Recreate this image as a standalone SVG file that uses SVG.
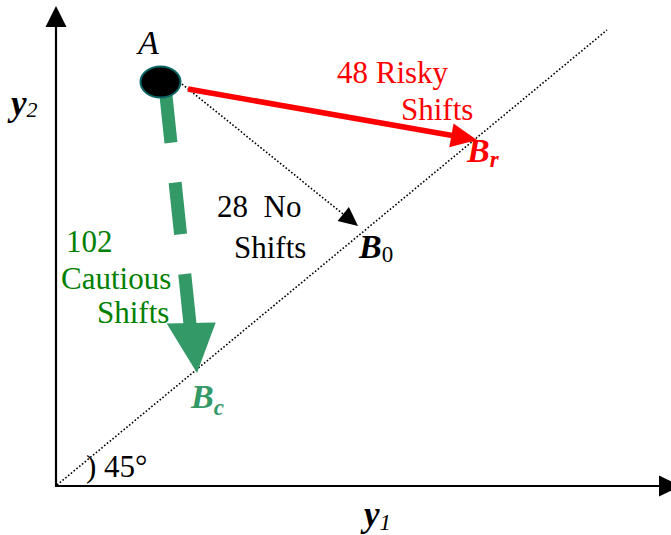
<svg xmlns="http://www.w3.org/2000/svg" width="671" height="535" viewBox="0 0 671 535">
<style>
text{font-family:"Liberation Serif","Times New Roman",serif;}
.lbl{font-size:31px;}
.bi{font-weight:bold;font-style:italic;}
.it{font-style:italic;}
.red{fill:#ff0000;}
.grn{fill:#008000;}
.sea{fill:#339966;}
.dot{stroke:#000;stroke-width:1.6;stroke-dasharray:1.6 2;fill:none;}
</style>
<rect width="671" height="535" fill="#fff"/>
<g id="axes">
  <line x1="56" y1="486" x2="56" y2="24" stroke="#000" stroke-width="2.2"/>
  <polygon points="56,6 45.5,27 66.5,27" fill="#000"/>
  <line x1="55" y1="486" x2="662" y2="486" stroke="#000" stroke-width="2.2"/>
  <polygon points="681,486 659,475.5 659,496.5" fill="#000"/>
  <line class="dot" x1="57" y1="485" x2="607" y2="30"/>
  <text class="lbl" x="86" y="477">) 45°</text>
  <text x="11" y="115" class="bi" font-size="35">y<tspan class="it" font-weight="normal" font-size="22" dy="2">2</tspan></text>
  <text x="364" y="526" class="bi" font-size="35">y<tspan class="it" font-weight="normal" font-size="23" dy="4">1</tspan></text>
</g>
<g id="connectors">
  <line x1="182" y1="84" x2="343" y2="214" class="dot"/>
  <polygon points="358,226 337.6,221 348.9,207" fill="#000"/>
  <line x1="188" y1="89" x2="455" y2="136" stroke="#ff0000" stroke-width="5.5"/>
  <polygon points="477,140 453.5,123.5 449.3,147.3" fill="#ff0000"/>
  <line x1="165.5" y1="91" x2="190" y2="324" stroke="#339966" stroke-width="13" stroke-dasharray="52 40"/>
  <polygon points="197,373 166.7,323.5 215.7,322.5" fill="#339966"/>
</g>
<g id="node-A">
  <ellipse cx="160.5" cy="82" rx="20" ry="15.5" fill="#000" stroke="#0b6565" stroke-width="2"/>
  <text x="138" y="54" class="it" font-size="34">A</text>
</g>
<g id="node-Br">
  <text x="467" y="162" class="bi red" font-size="34">B<tspan font-size="23" dy="5">r</tspan></text>
</g>
<g id="node-B0">
  <text x="359" y="258" class="bi" font-size="34">B<tspan font-size="23" font-weight="normal" font-style="normal" dy="4">0</tspan></text>
</g>
<g id="node-Bc">
  <text x="191" y="408" class="bi sea" font-size="34">B<tspan font-size="23" dy="7">c</tspan></text>
</g>
<g id="labels">
  <text class="lbl red" x="337" y="83">48 Risky</text>
  <text class="lbl red" x="401" y="120">Shifts</text>
  <text class="lbl" x="217" y="217" style="white-space:pre">28  No</text>
  <text class="lbl" x="234" y="258">Shifts</text>
  <text class="lbl grn" x="66" y="252">102</text>
  <text class="lbl grn" x="61" y="289" font-size="33">Cautious</text>
  <text class="lbl grn" x="97" y="323">Shifts</text>
</g>
</svg>
